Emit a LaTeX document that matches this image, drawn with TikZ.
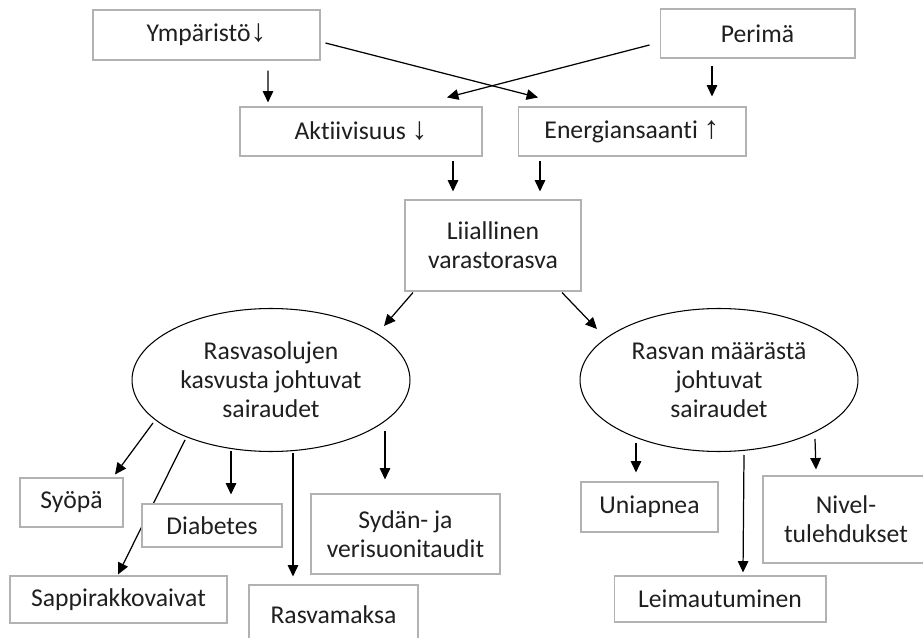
\documentclass[tikz,border=0pt]{standalone}
\usepackage{fontspec}
\setmainfont{Carlito}[Ligatures=NoCommon]
\newfontfamily\arrowfont{Liberation Sans}
\usetikzlibrary{shapes.geometric,arrows.meta,backgrounds}

\begin{document}
\begin{tikzpicture}[x=0.02cm,y=-0.02cm,
	every node/.style={font=\fontsize{14.6}{16.5}\selectfont,text=black!88,align=center,inner sep=0pt},
	box/.style={draw=black!30,line width=0.6pt,fill=white},
	sick/.style={ellipse,draw,line width=0.6pt,minimum width=5.56cm,minimum height=2.86cm},
	arr/.style={-{Triangle[length=6.5pt,width=6pt]},line width=0.7pt}]
	\useasboundingbox (0,0) rectangle (923,638);
	% causes
	\node[box,minimum width=4.54cm,minimum height=1cm] (ymp) at (206.5,35) {Ymp\"arist\"o{\arrowfont\fontsize{18}{18}\selectfont ↓}};
	\node[box,minimum width=3.9cm,minimum height=0.98cm] (per) at (757.5,33.5) {Perim\"a};
	\node[box,minimum width=4.84cm,minimum height=0.98cm] (akt) at (361,131.5) {Aktiivisuus {\arrowfont\fontsize{18}{18}\selectfont ↓}};
	\node[box,minimum width=4.56cm,minimum height=0.98cm] (ene) at (632,131.5) {Energiansaanti {\arrowfont\fontsize{18}{18}\selectfont ↑}};
	\node[box,minimum width=3.52cm,minimum height=1.82cm] (lii) at (493,245.5) {Liiallinen\\varastorasva};
	% disease groups
	\node[sick] (ell1) at (271,380) {Rasvasolujen\\kasvusta johtuvat\\sairaudet};
	\node[sick] (ell2) at (719,380) {Rasvan m\"a\"ar\"ast\"a\\johtuvat\\sairaudet};
	% diseases
	\node[box,minimum width=2.06cm,minimum height=0.98cm] (syo) at (71.5,502.5) {Sy\"op\"a};
	\node[box,minimum width=2.8cm,minimum height=0.86cm] (dia) at (212,525.5) {Diabetes};
	\node[box,minimum width=4.34cm,minimum height=0.94cm] (sap) at (118.5,599.5) {Sappirakkovaivat};
	\node[box,minimum width=3.38cm,minimum height=1.2cm] (ras) at (333.5,615) {Rasvamaksa};
	\node[box,minimum width=3.78cm,minimum height=1.6cm] (syd) at (405.5,534) {Syd\"an- ja\\verisuonitaudit};
	\node[box,minimum width=2.74cm,minimum height=1cm] (uni) at (649.5,507) {Uniapnea};
	\node[box,minimum width=3.32cm,minimum height=1.74cm] (niv) at (846,519.5) {Nivel-\\tulehdukset};
	\node[box,minimum width=4.24cm,minimum height=0.92cm] (lei) at (720,599) {Leimautuminen};
	% arrows
	\draw[arr] ([shift={(61.5,10)}]ymp.south) -- ([shift={(-93,-4)}]akt.north);
	\draw[arr] ([shift={(5,8)}]ymp.east) -- ([shift={(-94,-9)}]ene.north);
	\draw[arr] ([shift={(-10,11.5)}]per.west) -- ([shift={(86,-9)}]akt.north);
	\draw[arr] ([shift={(-45.5,7)}]per.south) -- ([shift={(80,-10)}]ene.north);
	\draw[arr] ([shift={(92,4)}]akt.south) -- ([shift={(-40,-8)}]lii.north);
	\draw[arr] ([shift={(-92,4)}]ene.south) -- ([shift={(47,-8)}]lii.north);
	\draw[arr] ([shift={(-80,1)}]lii.south) -- ([shift={(113,-54)}]ell1.center);
	\draw[arr] ([shift={(69,1)}]lii.south) -- ([shift={(-122,-51)}]ell2.center);
	\draw[arr] ([shift={(-118,43)}]ell1.center) -- ([shift={(43.5,-3)}]syo.north);
	\begin{scope}[on background layer]
		\draw[arr] ([shift={(-86,60)}]ell1.center) -- ([shift={(-0.5,-1)}]sap.north);
	\end{scope}
	\draw[arr] ([shift={(-40,71)}]ell1.center) -- ([shift={(19,-9)}]dia.north);
	\draw[arr] ([shift={(22,73)}]ell1.center) -- ([shift={(-40.5,-8)}]ras.north);
	\draw[arr] ([shift={(114,51)}]ell1.center) -- ([shift={(-20.5,-14)}]syd.north);
	\draw[arr] ([shift={(-83,63)}]ell2.center) -- ([shift={(-13.5,-9)}]uni.north);
	\draw[arr] ([shift={(25,75)}]ell2.center) -- ([shift={(23,-3)}]lei.north);
	\draw[arr] ([shift={(96,59)}]ell2.center) -- ([shift={(-30,-6)}]niv.north);
\end{tikzpicture}
\end{document}
